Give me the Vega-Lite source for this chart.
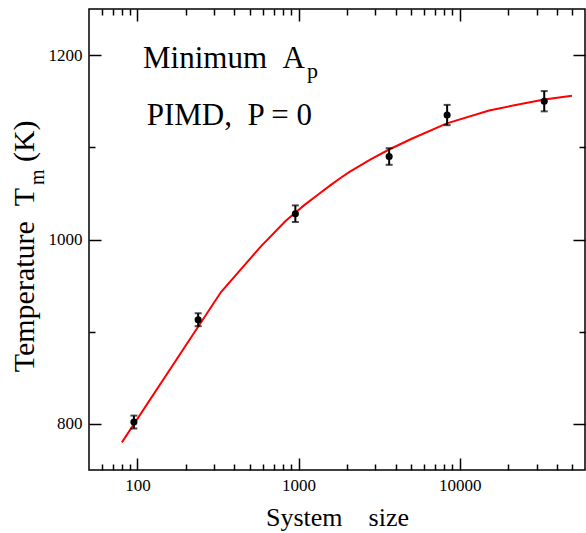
{
  "$schema": "https://vega.github.io/schema/vega-lite/v6.json",
  "width": 496,
  "height": 461,
  "autosize": {"type": "none"},
  "padding": {"left": 89, "top": 9, "right": 1, "bottom": 63},
  "background": "white",
  "config": {
    "view": {"stroke": "black", "strokeWidth": 1.5},
    "axis": {"grid": false, "domain": false, "tickColor": "black", "tickWidth": 1.5, "labelFont": "Liberation Serif", "labelFontSize": 17, "labelColor": "black", "titleFont": "Liberation Serif", "titleColor": "black", "titleFontWeight": "normal"},
    "text": {"font": "Liberation Serif", "color": "black"}
  },
  "resolve": {"axis": {"x": "independent", "y": "independent"}},
  "datasets": {
    "fit": [
      {"N": 80, "T": 780},
      {"N": 330, "T": 943},
      {"N": 580, "T": 992},
      {"N": 830, "T": 1020},
      {"N": 1080, "T": 1037},
      {"N": 1330, "T": 1049},
      {"N": 1580, "T": 1059},
      {"N": 1830, "T": 1067},
      {"N": 2060, "T": 1073},
      {"N": 2800, "T": 1087},
      {"N": 3650, "T": 1097.6},
      {"N": 5000, "T": 1109},
      {"N": 8330, "T": 1126},
      {"N": 15240, "T": 1140},
      {"N": 24000, "T": 1147},
      {"N": 33500, "T": 1151.8},
      {"N": 49800, "T": 1156}
    ],
    "md": [
      {"N": 95, "T": 802, "err": 7},
      {"N": 238, "T": 913, "err": 7},
      {"N": 955, "T": 1028, "err": 9},
      {"N": 3650, "T": 1090, "err": 9},
      {"N": 8360, "T": 1135, "err": 11},
      {"N": 33500, "T": 1150, "err": 11}
    ]
  },
  "layer": [
    {
      "data": {"name": "fit"},
      "mark": {"type": "line", "color": "#ff0000", "strokeWidth": 2},
      "encoding": {
        "x": {"field": "N", "type": "quantitative", "scale": {"type": "log", "domain": [50, 60000], "nice": false},
              "axis": {"orient": "bottom", "values": [100, 1000, 10000], "format": "d", "tickSize": -12, "labelPadding": 19, "title": "System\u00a0\u00a0\u00a0\u00a0size", "titleFontSize": 26, "titleY": 55, "titleBaseline": "alphabetic"}},
        "y": {"field": "T", "type": "quantitative", "scale": {"domain": [750, 1250], "nice": false, "zero": false},
              "axis": {"orient": "left", "values": [800, 1000, 1200], "format": "d", "tickSize": -12, "labelPadding": 19, "title": null}}
      }
    },
    {
      "data": {"name": "md"},
      "mark": {"type": "errorbar", "ticks": {"size": 7, "thickness": 2, "color": "black"}, "thickness": 2, "color": "black"},
      "encoding": {
        "x": {"field": "N", "type": "quantitative", "scale": {"type": "log", "domain": [50, 60000], "nice": false},
              "axis": {"orient": "bottom", "values": [60, 70, 80, 90, 200, 300, 400, 500, 600, 700, 800, 900, 2000, 3000, 4000, 5000, 6000, 7000, 8000, 9000, 20000, 30000, 40000, 50000], "tickSize": -6, "labels": false, "title": null}},
        "y": {"field": "T", "type": "quantitative", "scale": {"domain": [750, 1250], "nice": false, "zero": false},
              "axis": {"orient": "left", "values": [900, 1100], "tickSize": -6, "labels": false, "title": null}},
        "yError": {"field": "err"}
      }
    },
    {
      "data": {"name": "md"},
      "mark": {"type": "point", "filled": true, "color": "black", "size": 50, "opacity": 1},
      "encoding": {
        "x": {"field": "N", "type": "quantitative", "scale": {"type": "log", "domain": [50, 60000], "nice": false},
              "axis": {"orient": "top", "values": [100, 1000, 10000], "tickSize": -12, "labels": false, "title": null}},
        "y": {"field": "T", "type": "quantitative", "scale": {"domain": [750, 1250], "nice": false, "zero": false},
              "axis": {"orient": "right", "values": [800, 1000, 1200], "tickSize": -12, "labels": false, "title": null}}
      }
    },
    {
      "data": {"values": [{}]},
      "mark": {"type": "text", "text": "Minimum\u00a0\u00a0A", "fontSize": 31, "align": "left", "baseline": "alphabetic"},
      "encoding": {
        "x": {"datum": 108.2, "type": "quantitative", "scale": {"type": "log", "domain": [50, 60000], "nice": false},
              "axis": {"orient": "top", "values": [60, 70, 80, 90, 200, 300, 400, 500, 600, 700, 800, 900, 2000, 3000, 4000, 5000, 6000, 7000, 8000, 9000, 20000, 30000, 40000, 50000], "tickSize": -6, "labels": false, "title": null}},
        "y": {"datum": 1186, "type": "quantitative", "scale": {"domain": [750, 1250], "nice": false, "zero": false},
              "axis": {"orient": "right", "values": [900, 1100], "tickSize": -6, "labels": false, "title": null}}
      }
    },
    {
      "data": {"values": [{}]},
      "mark": {"type": "text", "text": "p", "fontSize": 22, "align": "left", "baseline": "alphabetic"},
      "encoding": {
        "x": {"datum": 1128, "type": "quantitative", "axis": null},
        "y": {"datum": 1175, "type": "quantitative", "axis": null}
      }
    },
    {
      "data": {"values": [{}]},
      "mark": {"type": "text", "text": "PIMD,\u00a0\u00a0P = 0", "fontSize": 31, "align": "left", "baseline": "alphabetic"},
      "encoding": {
        "x": {"datum": 114.1, "type": "quantitative", "axis": null},
        "y": {"datum": 1124, "type": "quantitative", "axis": null}
      }
    },
    {
      "data": {"values": [{}]},
      "mark": {"type": "text", "text": "Temperature\u00a0\u00a0T", "fontSize": 30, "align": "left", "baseline": "alphabetic", "angle": 270},
      "encoding": {
        "x": {"datum": 22.8, "type": "quantitative", "axis": null},
        "y": {"datum": 856, "type": "quantitative", "axis": null}
      }
    },
    {
      "data": {"values": [{}]},
      "mark": {"type": "text", "text": "m", "fontSize": 20, "align": "left", "baseline": "alphabetic", "angle": 270},
      "encoding": {
        "x": {"datum": 26.3, "type": "quantitative", "axis": null},
        "y": {"datum": 1059, "type": "quantitative", "axis": null}
      }
    },
    {
      "data": {"values": [{}]},
      "mark": {"type": "text", "text": "(K)", "fontSize": 30, "align": "left", "baseline": "alphabetic", "angle": 270},
      "encoding": {
        "x": {"datum": 22.8, "type": "quantitative", "axis": null},
        "y": {"datum": 1084, "type": "quantitative", "axis": null}
      }
    }
  ]
}
